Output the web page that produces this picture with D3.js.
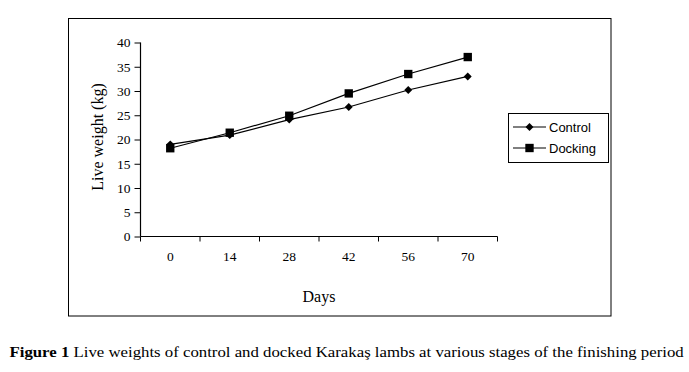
<!DOCTYPE html>
<html><head><meta charset="utf-8">
<script src="https://cdn.jsdelivr.net/npm/d3@7"></script>
<style>body{margin:0;background:#fff}svg{display:block}</style>
</head><body>
<svg id="c" width="689" height="372"></svg>
<script>
const days = ["0","14","28","42","56","70"];
const control = [19.0, 20.9, 24.1, 26.7, 30.2, 33.0];
const docking = [18.2, 21.4, 24.9, 29.5, 33.5, 37.0];
const yTicks = [0,5,10,15,20,25,30,35,40];
const seriesNames = ["Control","Docking"];

const svg = d3.select("#c");
const serif = "'Liberation Serif','Times New Roman',serif";
const sans = "'Liberation Sans',Arial,sans-serif";

// outer frame
svg.append("rect").attr("x",68.5).attr("y",18.5).attr("width",542.5).attr("height",297.5)
  .attr("fill","none").attr("stroke","#000").attr("stroke-width",1);

const L=140.5, R=497.5, T=42.5, B=236.5;
const x = d3.scaleBand().domain(days).range([L,R]);
const y = d3.scaleLinear().domain([0,40]).range([B,T]);

const yAxis = svg.append("g").attr("transform",`translate(${L},0)`)
  .call(d3.axisLeft(y).tickValues(yTicks).tickSize(6).tickPadding(4));
const xAxis = svg.append("g").attr("transform",`translate(0,${B})`)
  .call(d3.axisBottom(x).tickSize(0).tickPadding(15));
const bounds = days.map(d=>x(d)).concat([x(days[days.length-1])+x.bandwidth()]);
svg.append("g").selectAll("line").data(bounds).join("line")
  .attr("x1",d=>d).attr("x2",d=>d).attr("y1",B).attr("y2",B+5)
  .attr("stroke","#000").attr("stroke-width",1);

[yAxis,xAxis].forEach(g=>{
  g.selectAll("path.domain").attr("stroke","#000").attr("stroke-width",1.2);
  g.selectAll("line").attr("stroke","#000");
  g.selectAll("text").attr("font-family",serif).attr("font-size",13.5).attr("fill","#000");
});
yAxis.selectAll("path.domain").attr("d",`M-0,${T}V${B}`);
xAxis.selectAll("path.domain").attr("d",`M${L},0H${R}`);

const line = d3.line().x((d,i)=>x(days[i])+x.bandwidth()/2).y(d=>y(d));
const all = [control, docking];
all.forEach(s=>{
  svg.append("path").datum(s).attr("d",line).attr("fill","none")
    .attr("stroke","#000").attr("stroke-width",1.2);
});
const sym = [d3.symbol().type(d3.symbolDiamond2).size(40), d3.symbol().type(d3.symbolSquare).size(70)];
all.forEach((s,k)=>{
  svg.append("g").selectAll("path").data(s).join("path")
    .attr("transform",(d,i)=>`translate(${x(days[i])+x.bandwidth()/2},${y(d)})`)
    .attr("d",sym[k]).attr("fill","#000");
});

svg.append("text").attr("transform","translate(103,137) rotate(-90)")
  .attr("text-anchor","middle").attr("font-family",serif).attr("font-size",16).text("Live weight (kg)");
svg.append("text").attr("x",319).attr("y",302).attr("text-anchor","middle")
  .attr("font-family",serif).attr("font-size",16).text("Days");

// legend
svg.append("rect").attr("x",508.5).attr("y",113.5).attr("width",100).attr("height",49)
  .attr("fill","#fff").attr("stroke","#000").attr("stroke-width",1);
seriesNames.forEach((n,k)=>{
  const yy = 127 + k*21;
  svg.append("line").attr("x1",513).attr("x2",546).attr("y1",yy).attr("y2",yy).attr("stroke","#000").attr("stroke-width",1.2);
  svg.append("path").attr("transform",`translate(529.5,${yy})`).attr("d",sym[k]).attr("fill","#000");
  svg.append("text").attr("x",549).attr("y",yy+4.5).attr("font-family",sans).attr("font-size",13).text(n);
});

// caption (condensed horizontally like the reference)
const capG = svg.append("g");
const cap = capG.append("text").attr("x",0).attr("y",0).attr("font-family",serif).attr("font-size",15.5);
cap.append("tspan").attr("font-weight","bold").text("Figure 1");
cap.append("tspan").text(" Live weights of control and docked Karakaş lambs at various stages of the finishing period");
const w = cap.node().getComputedTextLength();
capG.attr("transform",`translate(9.5,356.5) scale(${675/w},1)`);
</script>
</body></html>
